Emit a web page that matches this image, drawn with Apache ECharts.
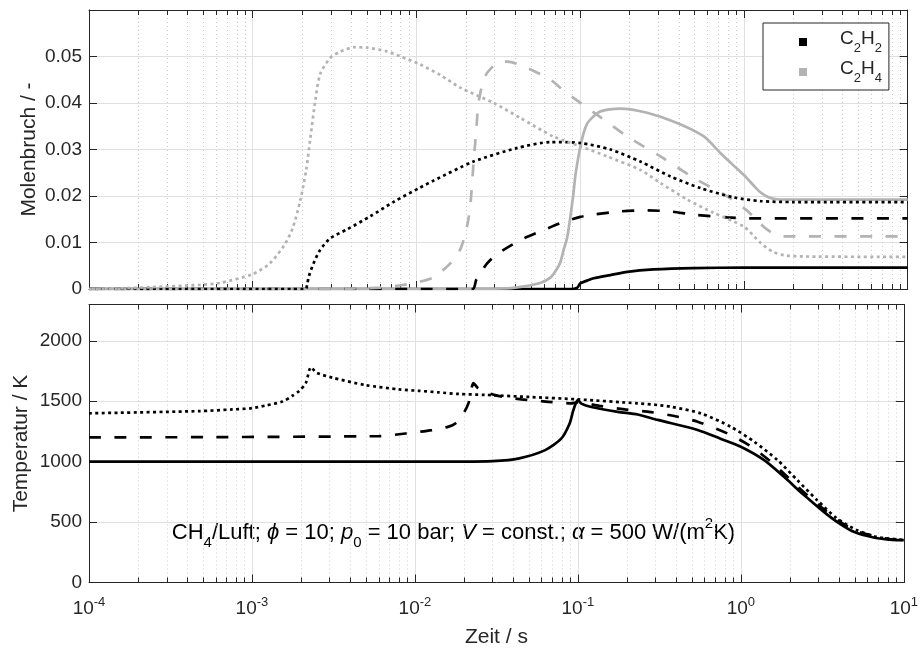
<!DOCTYPE html>
<html><head><meta charset="utf-8">
<script src="https://cdn.jsdelivr.net/npm/echarts@6/dist/echarts.min.js"></script>
<style>html,body{margin:0;padding:0;background:#fff}#c{width:921px;height:649px}</style>
</head><body><div id="c"></div>
<script>
// ---------- data ----------
const xTickExponents = ['-4', '-3', '-2', '-1', '0', '1'];
const molTicks = [0, 0.01, 0.02, 0.03, 0.04, 0.05];
const tempTicks = [0, 500, 1000, 1500, 2000];
const legendNames = ['C2H2', 'C2H4'];

// mole fraction, [t (s), x]
const c2h2_1000 = [[1e-4,0],[0.09,0],[0.096,0.0003],[0.1,0.0012],[0.11,0.0018],[0.121,0.0023],[0.153,0.003],[0.194,0.0037],[0.28,0.0042],[0.49,0.0045],[1,0.0046],[10,0.0046]];
const c2h4_1000 = [[1e-4,0],[0.03,0.0001],[0.04,0.0003],[0.057,0.0013],[0.066,0.0025],[0.072,0.0043],[0.0757,0.0058],[0.0793,0.0085],[0.0832,0.011],[0.0871,0.0156],[0.0905,0.02],[0.0935,0.0245],[0.097,0.028],[0.1,0.0305],[0.105,0.0336],[0.11,0.0355],[0.118,0.0368],[0.133,0.0382],[0.176,0.0388],[0.256,0.0379],[0.391,0.0357],[0.569,0.0328],[0.72,0.0292],[0.85,0.0268],[1.0,0.0245],[1.15,0.0222],[1.26,0.0208],[1.4,0.0198],[1.6,0.0193],[2.3,0.0192],[10,0.0192]];
const c2h2_1200 = [[1e-4,0],[0.022,0],[0.0232,0.002],[0.027,0.0055],[0.031,0.0075],[0.043,0.0105],[0.06,0.0127],[0.076,0.0142],[0.1,0.0155],[0.121,0.016],[0.176,0.0167],[0.256,0.0169],[0.35,0.0167],[0.494,0.016],[0.79,0.0154],[1.05,0.0152],[10,0.0152]];
const c2h4_1200 = [[1e-4,0],[0.004,0.0001],[0.006,0.0003],[0.008,0.0008],[0.01,0.0014],[0.0127,0.0025],[0.0161,0.0055],[0.0185,0.0085],[0.0194,0.0106],[0.0205,0.014],[0.0213,0.0177],[0.0223,0.0271],[0.0232,0.0343],[0.024,0.0404],[0.0263,0.0458],[0.031,0.0486],[0.036,0.0489],[0.047,0.0476],[0.066,0.045],[0.076,0.0432],[0.096,0.0405],[0.124,0.0377],[0.194,0.0328],[0.309,0.0285],[0.494,0.0239],[0.791,0.0199],[1.05,0.0168],[1.26,0.014],[1.45,0.0123],[1.75,0.0113],[10,0.0113]];
const c2h2_1400 = [[1e-4,0],[0.0021,0],[0.00215,0.001],[0.0022,0.0027],[0.00235,0.0055],[0.00258,0.0084],[0.00297,0.0109],[0.00376,0.0128],[0.0052,0.0156],[0.0073,0.0188],[0.0105,0.0218],[0.0127,0.0233],[0.0223,0.0274],[0.041,0.0303],[0.066,0.0316],[0.1,0.0314],[0.153,0.030],[0.233,0.0274],[0.356,0.0242],[0.543,0.0217],[0.868,0.0197],[1.26,0.0189],[2.0,0.0187],[10,0.0187]];
const c2h4_1400 = [[1e-4,0],[1.5e-4,0.0001],[2.4e-4,0.0004],[4.8e-4,0.0009],[6.3e-4,0.0013],[1.0e-3,0.0032],[1.27e-3,0.0055],[1.55e-3,0.0093],[1.75e-3,0.013],[1.95e-3,0.019],[2.12e-3,0.0256],[2.24e-3,0.032],[2.41e-3,0.0405],[2.58e-3,0.0462],[2.97e-3,0.0497],[3.4e-3,0.051],[4.2e-3,0.052],[5.0e-3,0.0519],[6.6e-3,0.0511],[8.0e-3,0.050],[1.05e-2,0.0483],[1.4e-2,0.046],[1.85e-2,0.0433],[2.96e-2,0.040],[4.3e-2,0.0368],[6.85e-2,0.0328],[0.1,0.0307],[0.1465,0.0285],[0.233,0.0256],[0.309,0.0228],[0.452,0.0192],[0.651,0.0164],[1.0,0.0134],[1.265,0.0099],[1.5,0.008],[1.8,0.0072],[2.3,0.007],[10,0.0069]];

// temperature, [t (s), K]
const temp_1000 = [[1e-4,1000],[0.02,1000],[0.03,1004],[0.043,1025],[0.063,1095],[0.079,1190],[0.089,1316],[0.0935,1420],[0.098,1495],[0.1,1510],[0.105,1480],[0.121,1452],[0.176,1412],[0.233,1390],[0.309,1345],[0.543,1262],[0.75,1190],[1.0,1123],[1.39,1012],[1.84,874],[2.44,723],[3.23,584],[3.89,502],[4.93,419],[6.53,372],[8.5,352],[10,350]];
const temp_1200 = [[1e-4,1200],[0.006,1211],[0.00875,1233],[0.0127,1261],[0.0161,1290],[0.0177,1316],[0.0195,1380],[0.0213,1482],[0.0229,1650],[0.0245,1606],[0.031,1550],[0.045,1515],[0.066,1495],[0.091,1482],[0.1,1490],[0.139,1459],[0.194,1432],[0.281,1410],[0.41,1371],[0.543,1330],[0.828,1233],[1.12,1137],[1.49,1012],[1.93,874],[2.55,723],[3.3,595],[3.89,520],[5.0,430],[6.23,392],[8,360],[10,352]];
const temp_1400 = [[1e-4,1400],[4.77e-4,1418],[7.6e-4,1432],[1.0e-3,1442],[1.22e-3,1465],[1.54e-3,1497],[1.77e-3,1545],[1.95e-3,1585],[2.14e-3,1650],[2.3e-3,1780],[2.5e-3,1735],[3.11e-3,1695],[4.98e-3,1633],[7.96e-3,1598],[1.05e-2,1586],[1.4e-2,1573],[1.85e-2,1560],[2.7e-2,1552],[0.05,1535],[0.1,1515],[0.233,1482],[0.309,1468],[0.373,1454],[0.57,1399],[0.868,1288],[1.21,1164],[1.68,1012],[2.22,847],[2.94,681],[3.89,530],[5.16,433],[6.84,377],[10,352]];

// ---------- style ----------
const FONT = '"Liberation Sans", Arial, Helvetica, sans-serif';
const AX = '#262626';
const GRAY = '#b3b3b3';
const GRID_C = '#e0e0e0';
const MINOR_C = '#cccccc';
const SOLID = 'solid', DASH = [12, 13.5], DOT = [3, 3.4];

const txt = (size, extra) => Object.assign({fontSize: size, height: size, fontFamily: FONT, color: AX}, extra || {});

function xAxisDef(gridIndex, position, labels) {
  const bottom = position === 'bottom';
  return {
    type: 'log', logBase: 10, gridIndex, position, min: 1e-4, max: 10,
    axisLine: {show: true, onZero: false, lineStyle: {color: AX, width: 1}},
    axisTick: {show: true, inside: true, length: 8, lineStyle: {color: AX}},
    minorTick: {show: true, splitNumber: 9, length: 5, lineStyle: {color: AX}},
    splitLine: {show: bottom, lineStyle: {color: GRID_C, width: 1}},
    minorSplitLine: {show: bottom, lineStyle: {color: MINOR_C, width: 1, type: [1, 3]}},
    axisLabel: labels ? {
      show: true, margin: 13,
      formatter: v => '{b|10}{e|' + xTickExponents[Math.round(Math.log10(v)) + 4] + '}',
      rich: {b: txt(19, {lineHeight: 23, verticalAlign: 'bottom'}), e: txt(13, {lineHeight: 13, verticalAlign: 'top'})}
    } : {show: false},
    name: labels ? 'Zeit / s' : '', nameLocation: 'middle', nameGap: 44, nameMoveOverlap: false,
    nameTextStyle: {fontSize: 21, color: AX, fontFamily: FONT}
  };
}
function yAxisDef(gridIndex, position, min, max, interval, ticks, fmt, name, gap) {
  const left = position === 'left';
  return {
    type: 'value', gridIndex, position, min, max, interval,
    axisLine: {show: true, onZero: false, lineStyle: {color: AX, width: 1}},
    axisTick: {show: true, inside: true, length: 8, lineStyle: {color: AX}},
    splitLine: {show: left, lineStyle: {color: GRID_C, width: 1}},
    axisLabel: left ? {show: true, margin: 7, fontSize: 19, color: AX, fontFamily: FONT,
      formatter: v => ticks.some(t => Math.abs(t - v) < 1e-9) ? fmt(v) : ''} : {show: false},
    name: left ? name : '', nameLocation: 'middle', nameGap: gap, nameMoveOverlap: false,
    nameTextStyle: {fontSize: 21, color: AX, fontFamily: FONT}
  };
}
function line(name, data, idx, color, dash) {
  return {type: 'line', name, data, xAxisIndex: idx, yAxisIndex: idx, showSymbol: false, symbol: 'none',
    smooth: 0.25, silent: true, emphasis: {disabled: true},
    lineStyle: {color, width: 2.7, type: dash, cap: 'butt'}, itemStyle: {color}};
}

const chart = echarts.init(document.getElementById('c'), null, {renderer: 'canvas'});
chart.setOption({
  animation: false,
  backgroundColor: '#fff',
  grid: [
    {left: 89, right: 13.3, top: 10, height: 279, containLabel: false},
    {left: 89, right: 13.3, top: 304.5, height: 278, containLabel: false}
  ],
  xAxis: [xAxisDef(0, 'bottom', false), xAxisDef(1, 'bottom', true), xAxisDef(0, 'top', false), xAxisDef(1, 'top', false)],
  yAxis: [
    yAxisDef(0, 'left', 0, 0.06, 0.01, molTicks, v => v === 0 ? '0' : v.toFixed(2), 'Molenbruch / -', 49),
    yAxisDef(1, 'left', 0, 2300, 500, tempTicks, v => String(v), 'Temperatur / K', 57),
    yAxisDef(0, 'right', 0, 0.06, 0.01, molTicks, v => '', '', 0),
    yAxisDef(1, 'right', 0, 2300, 500, tempTicks, v => '', '', 0)
  ],
  legend: {
    data: [{name: legendNames[0], itemStyle: {color: '#000', borderWidth: 0}}, {name: legendNames[1], itemStyle: {color: GRAY, borderWidth: 0}}],
    orient: 'vertical', left: 763, top: 23, padding: [6.5, 7, 5.5, 36], itemGap: 5,
    itemWidth: 8, itemHeight: 8, icon: 'rect',
    backgroundColor: '#fff', borderColor: AX, borderWidth: 1, borderRadius: 0, selectedMode: false,
    formatter: n => '{f|C}{s|2}{m|H}{s|' + n.charAt(3) + '}',
    textStyle: {rich: {
      f: txt(19, {lineHeight: 25, verticalAlign: 'top', padding: [0, 0, 0, 28]}),
      m: txt(19, {lineHeight: 25, verticalAlign: 'top'}),
      s: txt(13, {lineHeight: 13, verticalAlign: 'bottom'})
    }}
  },
  graphic: [{
    type: 'text', x: 453.5, y: 533, silent: true,
    style: {
      text: '{m|CH}{sub|4}{m|/Luft; }{i|ϕ}{m| = 10; }{i|p}{sub|0}{m| = 10 bar; }{i|V}{m| = const.; }{i|α}{m| = 500 W/(m}{sup|2}{m|K)}',
      align: 'center', verticalAlign: 'middle',
      rich: {
        m: txt(22, {lineHeight: 34, verticalAlign: 'middle'}),
        i: txt(22, {lineHeight: 34, verticalAlign: 'middle', fontStyle: 'italic'}),
        sub: txt(15, {lineHeight: 15, verticalAlign: 'bottom'}),
        sup: txt(15, {lineHeight: 15, verticalAlign: 'top'})
      }
    }
  }],
  series: [
    line('C2H2', c2h2_1000, 0, '#000', SOLID),
    line('C2H4', c2h4_1000, 0, GRAY, SOLID),
    line('C2H2', c2h2_1200, 0, '#000', DASH),
    line('C2H4', c2h4_1200, 0, GRAY, DASH),
    line('C2H2', c2h2_1400, 0, '#000', DOT),
    line('C2H4', c2h4_1400, 0, GRAY, DOT),
    line('T1000', temp_1000, 1, '#000', SOLID),
    line('T1200', temp_1200, 1, '#000', DASH),
    line('T1400', temp_1400, 1, '#000', DOT)
  ]
});
</script></body></html>
